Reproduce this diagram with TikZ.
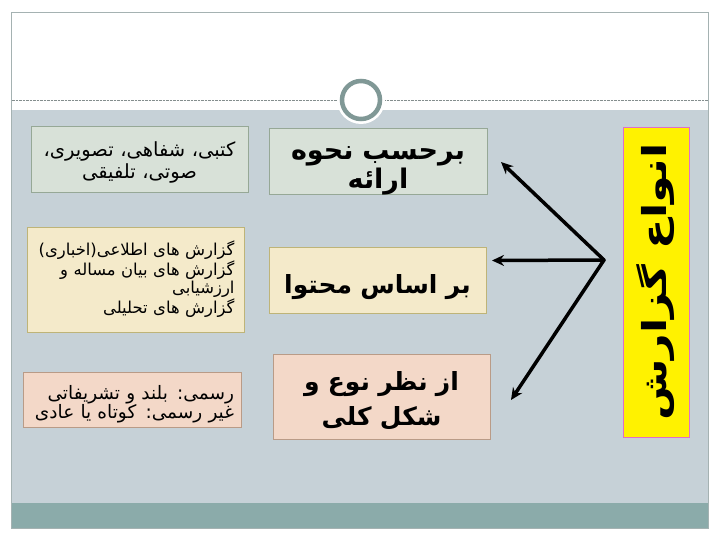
\documentclass[tikz,border=0pt]{standalone}
\usepackage{graphicx}
\usepackage{fontspec}
\setmainfont{DejaVu Sans}
\newfontfamily\farsi[Script=Arabic]{DejaVu Sans}
\TeXXeTstate=1
\usetikzlibrary{arrows.meta}
\definecolor{slidegrey}{RGB}{198,209,215}
\definecolor{bandteal}{RGB}{139,171,170}
\definecolor{framegrey}{RGB}{165,178,178}
\definecolor{ringgrey}{RGB}{128,152,150}
\definecolor{greenbox}{RGB}{216,225,216}
\definecolor{greenline}{RGB}{150,168,150}
\definecolor{sandbox}{RGB}{244,234,202}
\definecolor{sandline}{RGB}{190,180,120}
\definecolor{peachbox}{RGB}{243,216,200}
\definecolor{peachline}{RGB}{185,155,135}
\definecolor{titlepink}{RGB}{225,110,200}

\begin{document}
\begin{tikzpicture}[x=1pt,y=-1pt]
    \useasboundingbox (0,0) rectangle (720,540);

    % slide background
    \fill[white] (0,0) rectangle (720,540);
    \fill[slidegrey] (11.5,110) rectangle (708,503);
    \fill[bandteal] (11.5,503) rectangle (708,528);
    \draw[framegrey] (11.5,12) rectangle (708,528);
    \draw[framegrey!80!black, densely dotted] (11.5,100) -- (708,100);
    \node[circle, fill=white, minimum size=48pt] (ringbg) at (361,100) {};
    \node[circle, draw=ringgrey, line width=4.5pt, minimum size=38pt] (ring) at (361,100) {};

    \tikzstyle{box}=[draw, line width=0.8pt, inner sep=2pt]
    \tikzstyle{green}=[box, fill=greenbox, draw=greenline]
    \tikzstyle{sand}=[box, fill=sandbox, draw=sandline]
    \tikzstyle{peach}=[box, fill=peachbox, draw=peachline]
    \tikzstyle{title}=[box, fill=yellow, draw=titlepink, minimum width=310pt, minimum height=66pt]

    \node[green, minimum width=217pt, minimum height=66pt, text width=210pt, align=center,
          text height=15pt, text depth=19pt,
          font=\farsi\fontsize{19.5}{22}\selectfont] (kinds) at (139.5,159)
          {\beginR کتبی، شفاهی، تصویری،\endR\\ \beginR صوتی، تلفیقی\endR};
    \node[green, minimum width=218pt, minimum height=66pt, text width=210pt, align=center,
          text height=20pt, text depth=22pt,
          font=\farsi\bfseries\fontsize{27}{29}\selectfont] (present) at (378,161)
          {\beginR برحسب نحوه\endR\\ \beginR ارائه\endR};
    \node[sand, minimum width=217pt, minimum height=105pt, text width=198pt, align=right,
          font=\farsi\fontsize{16.4}{18.3}\selectfont] (topics) at (135.5,279.5)
          {\beginR گزارش های اطلاعی(اخباری)\endR\\ \beginR گزارش های بیان مساله و\endR\\
           \beginR ارزشیابی\endR\\ \beginR گزارش های تحلیلی\endR};
    \node[sand, minimum width=217pt, minimum height=66pt, text width=210pt, align=center,
          text height=31pt, text depth=5pt,
          font=\farsi\bfseries\fontsize{25}{30}\selectfont] (content) at (377.5,280)
          {\beginR بر اساس محتوا\endR};
    \node[peach, minimum width=218pt, minimum height=55pt, text width=204pt, align=right,
          text height=15pt, text depth=16pt,
          font=\farsi\fontsize{18.5}{18.5}\selectfont] (forms) at (132,399.5)
          {\beginR رسمی: بلند و تشریفاتی\endR\\ \beginR غیر رسمی: کوتاه یا عادی\endR};
    \node[peach, minimum width=217pt, minimum height=85pt, text width=210pt, align=center,
          text height=18pt, text depth=31pt,
          font=\farsi\bfseries\fontsize{25}{35}\selectfont] (shape) at (381.5,396.5)
          {\beginR از نظر نوع و\endR\\ \beginR شکل کلی\endR};
    \node[title, rotate=90, font=\farsi\bfseries\fontsize{33}{40}\selectfont] (types) at (656,282)
          {\scalebox{1.35}[1]{\beginR انواع گزارش\endR}};

    \coordinate (hub) at (604,260);
    \coordinate (tipA) at (501,162);
    \coordinate (tipB) at (492,260.5);
    \coordinate (tipC) at (511,400);

    \tikzstyle{fwd} = [draw=black, line width=3.5pt, line cap=round,
                       -{Stealth[length=12pt,width=11pt,inset=4pt]}]

          \draw [fwd] (hub) -- (tipA);
          \draw [fwd] (hub) -- (tipB);
          \draw [fwd] (hub) -- (tipC);

\end{tikzpicture}
\end{document}
